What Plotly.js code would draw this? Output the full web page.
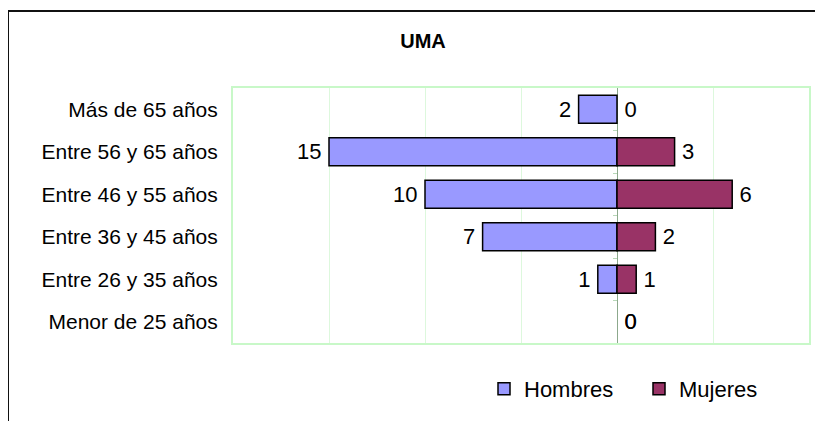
<!DOCTYPE html>
<html>
<head>
<meta charset="utf-8">
<script src="https://cdn.plot.ly/plotly-3.0.1.min.js"></script>
<style>
  html, body { margin: 0; padding: 0; background: #fff; }
  #wrap { position: relative; width: 815px; height: 421px; overflow: hidden; }
  #chart { width: 815px; height: 421px; }
  #frame { position: absolute; left: 8px; top: 10px; width: 900px; height: 500px;
           border-top: 2px solid #111; border-left: 1px solid #111; pointer-events: none; }
  #chart .legendpoints path { stroke: #000 !important; stroke-width: 1.5px !important; }
</style>
</head>
<body>
<div id="wrap">
  <div id="chart"></div>
  <div id="frame"></div>
</div>
<script>
// Data (bottom to top)
const categories = ["Menor de 25 años", "Entre 26 y 35 años", "Entre 36 y 45 años",
                    "Entre 46 y 55 años", "Entre 56 y 65 años", "Más de 65 años"];
const hombres = [0, 1, 7, 10, 15, 2];
const mujeres = [0, 1, 2, 6, 3, 0];
const seriesNames = ["Hombres", "Mujeres"];
const chartTitle = "UMA";

const hombresColor = "#9999FF";
const mujeresColor = "#993366";
const font = "Liberation Sans, Arial, sans-serif";
const gap = "\u2009";

const traces = [
  {
    type: "bar", orientation: "h", name: seriesNames[0],
    y: categories, x: hombres.map(v => -v),
    text: hombres.map(v => gap + String(v) + gap),
    textposition: "outside", cliponaxis: false, constraintext: "none",
    textfont: { family: font, size: 22, color: "#000" },
    marker: { color: hombresColor, line: { color: "#000", width: hombres.map(v => v ? 1.5 : 0) } },
    hoverinfo: "none"
  },
  {
    type: "bar", orientation: "h", name: seriesNames[1],
    y: categories, x: mujeres,
    text: mujeres.map(v => gap + String(v) + gap),
    textposition: "outside", cliponaxis: false, constraintext: "none",
    textfont: { family: font, size: 22, color: "#000" },
    marker: { color: mujeresColor, line: { color: "#000", width: mujeres.map(v => v ? 1.5 : 0) } },
    hoverinfo: "none"
  },
  { type: "scatter", x: [], y: [], yaxis: "y2", showlegend: false, hoverinfo: "none" }
];

const layout = {
  width: 815, height: 421,
  margin: { l: 233, r: 6, t: 88, b: 78 },
  paper_bgcolor: "#fff", plot_bgcolor: "#fff",
  barmode: "relative", bargap: 0.34,
  showlegend: true,
  title: {
    text: "<b>" + chartTitle + "</b>",
    font: { family: font, size: 20, color: "#000" },
    xref: "container", yref: "container",
    x: 423 / 815, xanchor: "center",
    y: 1 - 41 / 421, yanchor: "middle"
  },
  xaxis: {
    range: [-20, 10], dtick: 5, tick0: 0,
    showticklabels: false, ticks: "",
    showgrid: true, gridcolor: "#ddf8dd", gridwidth: 1,
    zeroline: true, zerolinecolor: "#8ca88c", zerolinewidth: 1,
    showline: true, mirror: true, linecolor: "#c8f8c8", linewidth: 2,
    fixedrange: true
  },
  yaxis: {
    type: "category", range: [-0.5, 5.5],
    ticks: "", ticklabelstandoff: 9,
    tickfont: { family: font, size: 21, color: "#000" },
    showgrid: false, zeroline: false,
    showline: true, mirror: true, linecolor: "#c8f8c8", linewidth: 2,
    fixedrange: true
  },
  yaxis2: {
    overlaying: "y", anchor: "free", position: 20 / 30,
    range: [-0.5, 5.5], tickvals: [0.5, 1.5, 2.5, 3.5, 4.5],
    ticks: "outside", ticklen: 4, tickcolor: "#b8d8b8", tickwidth: 1,
    showticklabels: false, showgrid: false, zeroline: false, showline: false,
    fixedrange: true
  },
  legend: {
    orientation: "h",
    xref: "container", yref: "container",
    x: 484 / 815, xanchor: "left",
    y: 1 - 389 / 421, yanchor: "middle",
    font: { family: font, size: 22, color: "#000" },
    entrywidth: 110, entrywidthmode: "pixels",
    bgcolor: "rgba(0,0,0,0)", borderwidth: 0
  }
};

Plotly.newPlot("chart", traces, layout, { displayModeBar: false, staticPlot: true });
</script>
</body>
</html>
